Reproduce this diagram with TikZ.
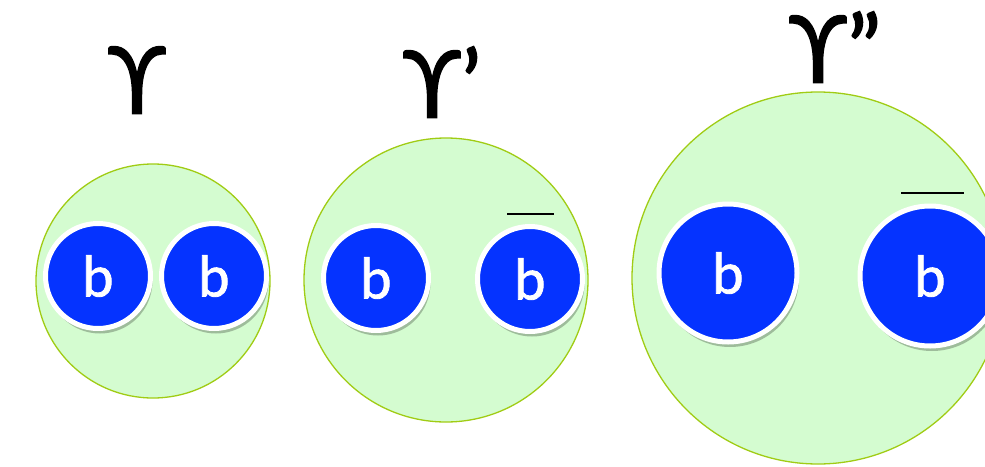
\documentclass[tikz,border=0pt]{standalone}
\usepackage{fontspec}
\newfontfamily\greekfont{Lato}[FakeBold=1.5]
\newfontfamily\quarkfont{Lato}[FakeBold=1.5]
\usetikzlibrary{shadows}
\definecolor{mesongreen}{RGB}{212,252,208}
\definecolor{mesonedge}{RGB}{160,204,20}
\definecolor{quarkblue}{RGB}{5,51,255}

\begin{document}
\begin{tikzpicture}[
        x=1pt, y=-1pt,
        meson/.style={circle, draw=mesonedge, line width=1.3pt, fill=mesongreen, minimum size=#1, inner sep=0pt},
        quark/.style={circle, draw=white, line width=5pt, fill=quarkblue, text=white, minimum size=#1, inner sep=0pt,
            font=\quarkfont\fontsize{56}{56}\selectfont,
            drop shadow={shadow xshift=2pt, shadow yshift=-5pt, opacity=0.25, fill=black}},
        state/.style={font=\greekfont\fontsize{93}{93}\selectfont},
        antibar/.style={line width=2pt, black}
    ]
        \useasboundingbox (0,0) rectangle (985,466);
        \clip (0,0) rectangle (985,466);

        % Mesons
        \node[meson=234pt] (m1) at (153,281) {};
        \node[meson=284pt] (m2) at (446,280) {};
        \node[meson=372pt] (m3) at (818,278) {};

        % Quarks
        \node[quark=105pt] (q1) at (98,276) {b};
        \node[quark=105pt] (q2) at (214,276) {b};
        \node[quark=105pt] (q3) at (376,278) {b};
        \node[quark=105pt] (q4) at (530,279) {b};
        \node[quark=138pt] (q5) at (728,273) {b};
        \node[quark=140pt] (q6) at (930,276) {b};

        % Anti-quark bars
        \draw[antibar] ([xshift=-23pt, yshift=10pt]q4.north) -- ++(47,0);
        \draw[antibar] ([xshift=-29pt, yshift=11pt]q6.north) -- ++(63,0);

        % Labels
        \node[state] (u1) at (137,80) {ϒ};
        \node[state] (u2) at (442,82) {ϒ’};
        \node[state] (u3) at (835,47) {ϒ”};

    \end{tikzpicture}
\end{document}
